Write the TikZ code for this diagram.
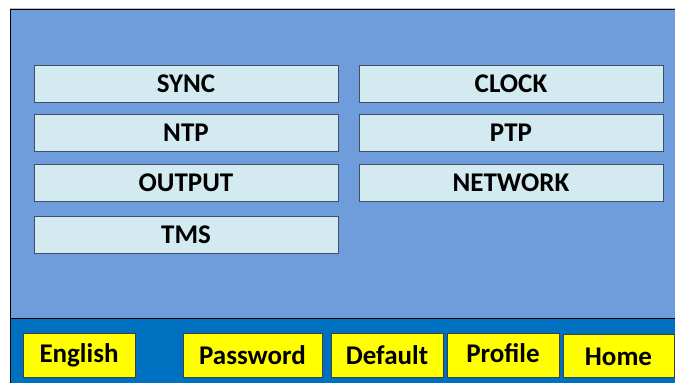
\documentclass[tikz,border=0pt]{standalone}
\usepackage{fontspec}
\setmainfont{Carlito}
\definecolor{panel}{HTML}{6F9DDB}
\definecolor{bar}{HTML}{0070C0}
\definecolor{menufill}{HTML}{D3EAF0}
\definecolor{menuedge}{HTML}{3F5066}
\definecolor{btnfill}{HTML}{FFFF00}
\begin{document}
\begin{tikzpicture}[x=1pt,y=-1pt,
  lbl/.style={font=\fontsize{27}{29}\selectfont\bfseries,inner sep=0pt},
  menubox/.style={draw=menuedge,line width=1pt,fill=menufill,inner sep=0pt,font=\fontsize{27}{29}\selectfont\bfseries},
  btnbox/.style={draw=black!75,line width=1pt,fill=btnfill,inner sep=0pt,font=\fontsize{27}{29}\selectfont\bfseries}]
\useasboundingbox (0,0) rectangle (675,383);
\fill[white] (0,0) rectangle (675,383);
\draw[black!25,line width=0.8pt] (10,8) -- (675,8);
\fill[panel] (10,9) rectangle (676,318);
\fill[bar] (10,318) rectangle (676,384);
\draw[black,line width=1pt] (676,9) -- (10,9) -- (10,384);
\draw[black,line width=1pt] (10,318) -- (676,318);
% menu boxes
\node[menubox,minimum width=304pt,minimum height=37pt] (sync) at (186,83.5) {SYNC};
\node[menubox,minimum width=304pt,minimum height=37pt] (clock) at (511,83.5) {CLOCK};
\node[menubox,minimum width=304pt,minimum height=37pt] (ntp) at (186,133) {NTP};
\node[menubox,minimum width=304pt,minimum height=37pt] (ptp) at (511,133) {PTP};
\node[menubox,minimum width=304pt,minimum height=37pt] (output) at (186,182.5) {OUTPUT};
\node[menubox,minimum width=304pt,minimum height=37pt] (network) at (511,182.5) {NETWORK};
\node[menubox,minimum width=304pt,minimum height=37pt] (tms) at (186,234.5) {TMS};
% buttons
\node[btnbox,minimum width=112pt,minimum height=44pt] (english) at (79,355) {English};
\node[btnbox,minimum width=139pt,minimum height=44pt] (password) at (252.5,355) {Password};
\node[btnbox,minimum width=112pt,minimum height=44pt] (default) at (387,355) {Default};
\node[btnbox,minimum width=112pt,minimum height=44pt] (profile) at (503,355) {};
\node[lbl] (profiletext) at (503,353) {Profile};
\node[btnbox,minimum width=111pt,minimum height=43pt] (home) at (618.5,355.5) {};
\node[lbl] (hometext) at (618.5,357) {Home};
\end{tikzpicture}
\end{document}
